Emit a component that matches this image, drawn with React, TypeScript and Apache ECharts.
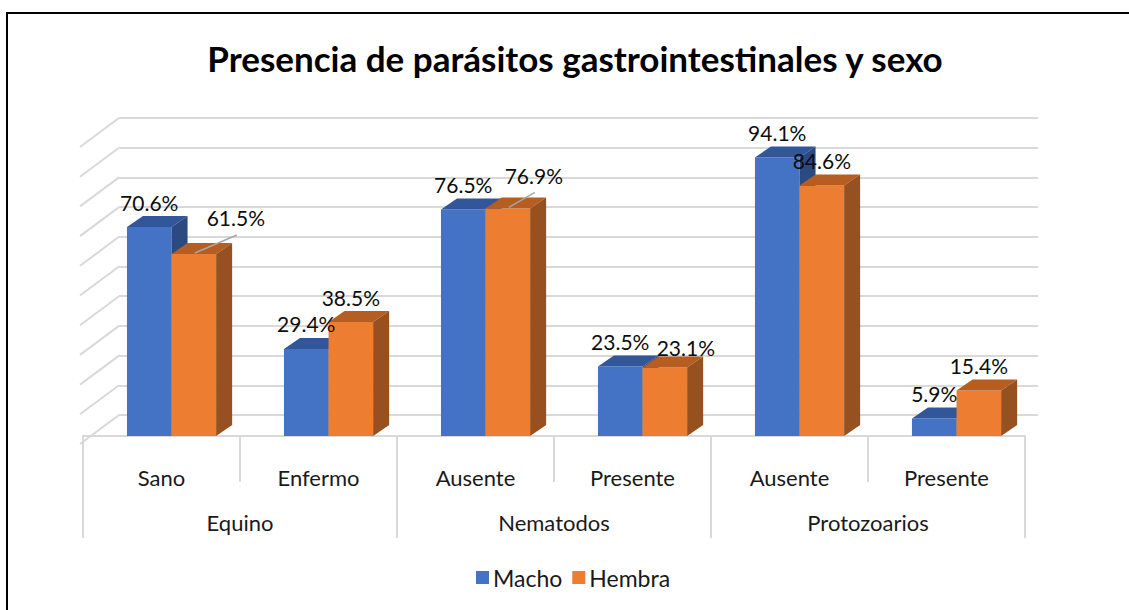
import React, { useEffect, useRef } from "react";
import * as echarts from "echarts";

const titleText = "Presencia de parásitos gastrointestinales y sexo";
const categories = ["Sano", "Enfermo", "Ausente", "Presente", "Ausente", "Presente"];
const groups = ["Equino", "Nematodos", "Protozoarios"];
const seriesNames = ["Macho", "Hembra"];
const macho = [70.6, 29.4, 76.5, 23.5, 94.1, 5.9];
const hembra = [61.5, 38.5, 76.9, 23.1, 84.6, 15.4];
const wallTicks = [0, 10, 20, 30, 40, 50, 60, 70, 80, 90, 100];

// styling (not data)
const frontColors = ["#4472C4", "#ED7D31"];
const topColors = ["#31569A", "#B65D22"];
const sideColors = ["#2B4A82", "#97501F"];
const machoLabelShift = [[0, 0], [0, 0], [0, 0], [0, 0], [0, 0], [0, 0]];
const hembraLabelShift = [[42, -11], [0, 0], [26, -8], [21, 5], [0, 0], [0, 0]];
const hembraLeader = [true, false, true, false, false, false];

const DX = 16;
const DY = -11;
const FONT = "Lato";

function barGeom(api: any, k: number) {
  const i = api.value(0);
  const v = api.value(1);
  const base = api.coord([i, 0]);
  const top = api.coord([i, v]);
  const catW = api.size([1, 0])[0];
  const pairW = catW * 0.568;
  const bw = pairW / 2;
  const x0 = base[0] + catW * 0.064 - pairW / 2 + k * bw;
  return { x0, bw, baseY: base[1], topY: top[1], v };
}

function barRender(k: number) {
  return (params: any, api: any) => {
    const g = barGeom(api, k);
    const { x0, bw, baseY, topY } = g;
    return {
      type: "group",
      children: [
        {
          type: "rect",
          shape: { x: x0, y: topY, width: bw, height: baseY - topY },
          style: { fill: frontColors[k] },
        },
        {
          type: "polygon",
          shape: {
            points: [
              [x0, topY],
              [x0 + DX, topY + DY],
              [x0 + bw + DX, topY + DY],
              [x0 + bw, topY],
            ],
          },
          style: { fill: topColors[k] },
        },
        {
          type: "polygon",
          shape: {
            points: [
              [x0 + bw, topY],
              [x0 + bw + DX, topY + DY],
              [x0 + bw + DX, baseY + DY],
              [x0 + bw, baseY],
            ],
          },
          style: { fill: sideColors[k] },
        },
      ],
    };
  };
}

function labelRender(k: number) {
  const shifts = k === 0 ? machoLabelShift : hembraLabelShift;
  return (params: any, api: any) => {
    const g = barGeom(api, k);
    const idx = params.dataIndex;
    const cx = g.x0 + g.bw / 2;
    const lx = cx + shifts[idx][0];
    const ly = g.topY - 25 + shifts[idx][1];
    const children: any[] = [
      {
        type: "text",
        x: lx,
        y: ly,
        style: {
          text: g.v.toFixed(1) + "%",
          fill: "#0d0d0d",
          fontSize: 21,
          fontFamily: FONT,
          align: "center",
          verticalAlign: "middle",
        },
      },
    ];
    if (k === 1 && hembraLeader[idx]) {
      children.push({
        type: "line",
        shape: { x1: cx + 1, y1: g.topY - 1, x2: lx + 1, y2: ly + 17 },
        style: { stroke: "#a6a6a6", lineWidth: 1.5 },
      });
    }
    return { type: "group", children };
  };
}

const axisLabelStyle = { fontSize: 22, fontFamily: FONT, color: "#1a1a1a" };
const tickStyle = { color: "#d9d9d9", width: 2 };

export default function App() {
  const ref = useRef<HTMLDivElement>(null);
  useEffect(() => {
    const chart = echarts.init(ref.current as HTMLDivElement, null, { renderer: "svg" });
    const option: any = {
      animation: false,
      backgroundColor: "#ffffff",
      grid: [
        { left: 83, right: 104, top: 140, bottom: 174 },
        { left: 119, right: 91, top: 118, bottom: 195 },
      ],
      xAxis: [
        {
          gridIndex: 0,
          type: "category",
          data: categories,
          position: "bottom",
          offset: 8,
          axisLine: { show: true, lineStyle: tickStyle },
          axisTick: { show: true, interval: 0, length: 46, lineStyle: tickStyle },
          axisLabel: { interval: 0, margin: 22, ...axisLabelStyle },
          splitLine: { show: false },
        },
        {
          gridIndex: 0,
          type: "category",
          data: groups,
          position: "bottom",
          offset: 8,
          axisLine: { show: false },
          axisTick: { show: true, interval: 0, length: 94, lineStyle: tickStyle },
          axisLabel: { interval: 0, margin: 67, ...axisLabelStyle },
          splitLine: { show: false },
        },
        { gridIndex: 1, type: "value", min: 0, max: 1, show: false },
      ],
      yAxis: [
        { gridIndex: 0, type: "value", min: 0, max: 100, show: false },
        {
          gridIndex: 1,
          type: "value",
          min: 0,
          max: 100,
          interval: 10,
          axisLine: { show: false },
          axisTick: { show: false },
          axisLabel: { show: false },
          splitLine: { show: true, lineStyle: { color: "#d9d9d9", width: 2 } },
        },
      ],
      legend: {
        data: seriesNames,
        left: 476,
        top: 566,
        padding: 0,
        icon: "rect",
        itemWidth: 13,
        itemHeight: 13,
        itemGap: 10,
        textStyle: { fontSize: 23, fontFamily: FONT, color: "#1a1a1a", padding: [0, 0, 0, -1] },
      },
      graphic: [
        {
          type: "text",
          x: 575,
          y: 58,
          style: {
            text: titleText,
            fontSize: 35,
            fontWeight: "bold",
            fontFamily: FONT,
            fill: "#000000",
            align: "center",
            verticalAlign: "middle",
          },
        },
        { type: "line", shape: { x1: 6, y1: 13, x2: 1129, y2: 13 }, style: { stroke: "#000", lineWidth: 2 } },
        { type: "line", shape: { x1: 7, y1: 12, x2: 7, y2: 610 }, style: { stroke: "#000", lineWidth: 2 } },
      ],
      series: [
        {
          type: "custom",
          name: "wall",
          xAxisIndex: 2,
          yAxisIndex: 1,
          silent: true,
          clip: false,
          z: 1,
          data: wallTicks.map((v) => [0, v]),
          renderItem: (params: any, api: any) => {
            const pt = api.coord([0, api.value(1)]);
            return {
              type: "line",
              shape: { x1: pt[0] - 39, y1: pt[1] + 29, x2: pt[0], y2: pt[1] },
              style: { stroke: "#d9d9d9", lineWidth: 2 },
            };
          },
        },
        {
          type: "custom",
          name: seriesNames[0],
          xAxisIndex: 0,
          yAxisIndex: 0,
          clip: false,
          z: 3,
          itemStyle: { color: frontColors[0] },
          data: macho.map((v, i) => [i, v]),
          renderItem: barRender(0),
        },
        {
          type: "custom",
          name: seriesNames[1],
          xAxisIndex: 0,
          yAxisIndex: 0,
          clip: false,
          z: 3,
          itemStyle: { color: frontColors[1] },
          data: hembra.map((v, i) => [i, v]),
          renderItem: barRender(1),
        },
        {
          type: "custom",
          name: "lbl-macho",
          xAxisIndex: 0,
          yAxisIndex: 0,
          clip: false,
          silent: true,
          z: 5,
          data: macho.map((v, i) => [i, v]),
          renderItem: labelRender(0),
        },
        {
          type: "custom",
          name: "lbl-hembra",
          xAxisIndex: 0,
          yAxisIndex: 0,
          clip: false,
          silent: true,
          z: 5,
          data: hembra.map((v, i) => [i, v]),
          renderItem: labelRender(1),
        },
      ],
    };
    chart.setOption(option);
    return () => chart.dispose();
  }, []);
  return (
    <div
      ref={ref}
      style={{ position: "fixed", left: 0, top: 0, width: 1129, height: 610, background: "#fff" }}
    />
  );
}
